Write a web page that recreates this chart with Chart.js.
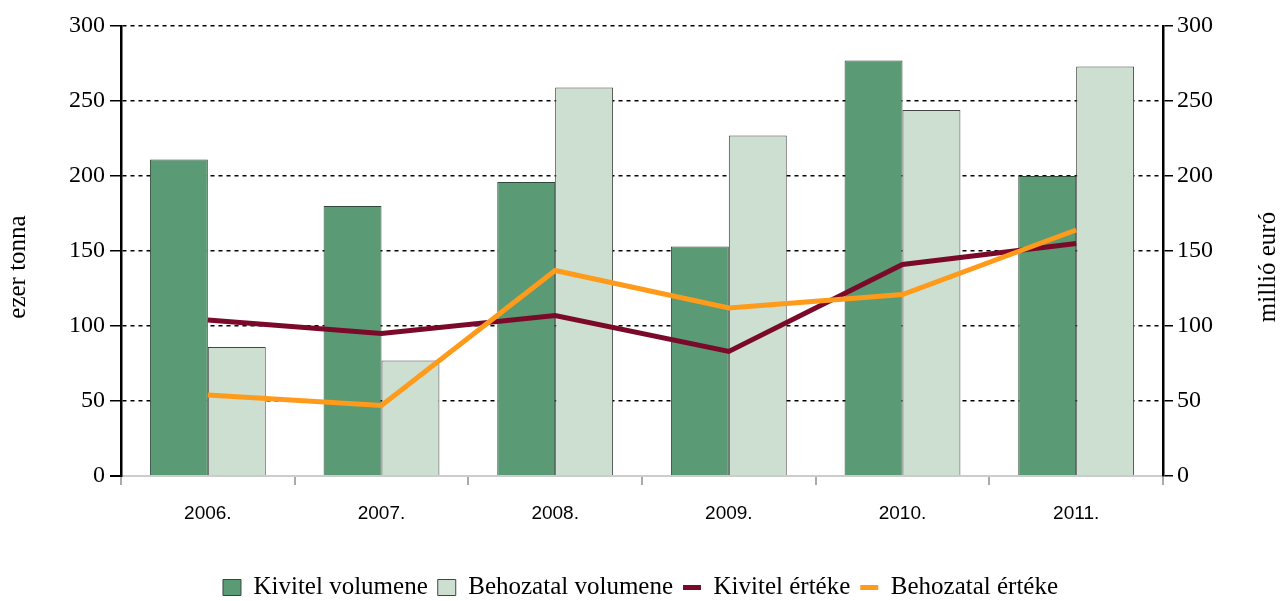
<!DOCTYPE html>
<html>
<head>
<meta charset="utf-8">
<script src="https://cdn.jsdelivr.net/npm/chart.js@4/dist/chart.umd.min.js"></script>
<style>
  html, body { margin: 0; padding: 0; background: #fff; }
  #wrap { width: 1281px; height: 601px; }
</style>
</head>
<body>
<div id="wrap"><canvas id="myChart"></canvas></div>
<script>
// values
const years = ['2006.', '2007.', '2008.', '2009.', '2010.', '2011.'];
const kivitelVolumen = [211, 180, 196, 153, 277, 200];
const behozatalVolumen = [86, 77, 259, 227, 244, 273];
const kivitelErtek = [104, 95, 107, 83, 141, 155];
const behozatalErtek = [54, 47, 137, 112, 121, 164];
const leftTitle = 'ezer tonna';
const rightTitle = 'millió euró';

const serif = 'Liberation Serif, Times New Roman, serif';
const sans = 'Liberation Sans, Arial, sans-serif';

// both axis titles read bottom-to-top, so draw them by hand
const axisTitles = {
    id: 'axisTitles',
    afterDraw(chart) {
        const c = chart.ctx;
        const mid = (chart.chartArea.top + chart.chartArea.bottom) / 2 + 16;
        c.save();
        c.fillStyle = '#000';
        c.font = '25px ' + serif;
        c.textAlign = 'center';
        c.textBaseline = 'middle';
        [[18, leftTitle], [chart.width - 13, rightTitle]].forEach(([x, t]) => {
            c.save();
            c.translate(x, mid);
            c.rotate(-Math.PI / 2);
            c.fillText(t, 0, 0);
            c.restore();
        });
        c.restore();
    }
};

let ctx = document.querySelector('#myChart').getContext('2d');

let chart = new Chart(ctx, {
    type: 'bar',
    data: {
        labels: years,
        datasets: [{
            label: 'Kivitel volumene',
            data: kivitelVolumen,
            backgroundColor: '#5a9a74',
            borderColor: '#2f4a3a',
            borderWidth: 1,
            yAxisID: 'y',
            order: 2,
            pointStyle: 'rect'
        }, {
            label: 'Behozatal volumene',
            data: behozatalVolumen,
            backgroundColor: '#ccdfd1',
            borderColor: '#444',
            borderWidth: 1,
            yAxisID: 'y',
            order: 2,
            pointStyle: 'rect'
        }, {
            type: 'line',
            label: 'Kivitel értéke',
            data: kivitelErtek,
            borderColor: '#7b0a2a',
            backgroundColor: '#7b0a2a',
            borderWidth: 5,
            pointRadius: 0,
            yAxisID: 'y1',
            order: 1,
            pointStyle: 'line'
        }, {
            type: 'line',
            label: 'Behozatal értéke',
            data: behozatalErtek,
            borderColor: '#ff9a1a',
            backgroundColor: '#ff9a1a',
            borderWidth: 5,
            pointRadius: 0,
            yAxisID: 'y1',
            order: 0,
            pointStyle: 'line'
        }]
    },
    options: {
        responsive: true,
        maintainAspectRatio: false,
        animation: false,
        datasets: {
            bar: { categoryPercentage: 0.667, barPercentage: 1 }
        },
        layout: { padding: { top: 26, bottom: -9 } },
        plugins: {
            tooltip: { enabled: false },
            legend: {
                position: 'bottom',
                labels: {
                    usePointStyle: true,
                    pointStyleWidth: 18,
                    boxHeight: 16,
                    padding: 10,
                    color: '#000',
                    font: { family: serif, size: 25 },
                    sort: (a, b) => a.datasetIndex - b.datasetIndex
                }
            }
        },
        scales: {
            x: {
                grid: {
                    drawOnChartArea: false,
                    color: '#aaa',
                    lineWidth: 2,
                    tickLength: 9
                },
                border: { color: '#ccc', width: 2 },
                ticks: {
                    color: '#000',
                    padding: 17,
                    font: { family: sans, size: 19 }
                },
                afterFit: function (scale) { scale.height = 89; }
            },
            y: {
                position: 'left',
                min: 0,
                max: 300,
                grid: {
                    color: c => c.tick.value === 0 ? '#999' : '#000',
                    lineWidth: c => c.tick.value === 0 ? 2 : 1.5,
                    tickColor: '#000',
                    tickLength: 11
                },
                border: { color: '#000', width: 2.5, dash: [4, 4] },
                ticks: {
                    stepSize: 50,
                    color: '#000',
                    padding: 5,
                    font: { family: serif, size: 24 }
                },
                afterFit: function (scale) { scale.width = 121; }
            },
            y1: {
                position: 'right',
                min: 0,
                max: 300,
                grid: {
                    drawOnChartArea: false,
                    tickColor: '#000',
                    lineWidth: 1.5,
                    tickLength: 10
                },
                border: { color: '#000', width: 2.5 },
                ticks: {
                    stepSize: 50,
                    color: '#000',
                    padding: 4,
                    font: { family: serif, size: 24 }
                },
                afterFit: function (scale) { scale.width = 118; }
            }
        }
    },
    plugins: [axisTitles]
});
</script>
</body>
</html>
